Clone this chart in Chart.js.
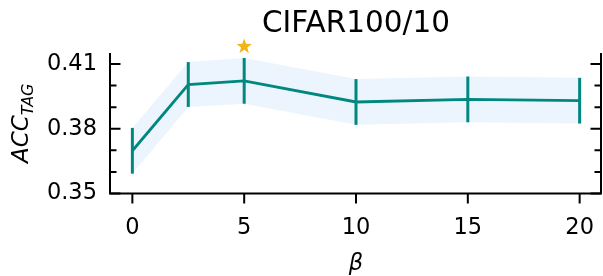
<!DOCTYPE html>
<html>
<head>
<meta charset="utf-8">
<script src="https://cdn.jsdelivr.net/npm/chart.js@4"></script>
<style>
  html, body { margin: 0; padding: 0; background: #fff; }
  #wrap { width: 603px; height: 276px; }
</style>
</head>
<body>
<div id="wrap"><canvas id="myChart" width="603" height="276"></canvas></div>
<script>
// data
const betas = [0, 2.5, 5, 10, 15, 20];
const accMean = [0.3698, 0.4005, 0.4022, 0.3924, 0.3936, 0.3930];
const accErr = [0.0106, 0.0104, 0.0106, 0.0106, 0.0106, 0.0106];
const yTickLabels = ['0.35', '0.38', '0.41'];
const bestBeta = 5;
const starValue = 0.4181;

const teal = '#00877f';
const bandColor = '#ecf5fd';
const font = "'DejaVu Sans', sans-serif";

const upper = betas.map((b, i) => ({x: b, y: accMean[i] + accErr[i]}));
const lower = betas.map((b, i) => ({x: b, y: accMean[i] - accErr[i]}));
const meanPts = betas.map((b, i) => ({x: b, y: accMean[i]}));

const decor = {
    id: 'decor',
    afterDatasetsDraw(chart) {
        const ctx = chart.ctx;
        const xs = chart.scales.x, ys = chart.scales.y;
        ctx.save();
        // error bars
        ctx.strokeStyle = teal;
        ctx.lineWidth = 3;
        for (let i = 0; i < betas.length; i++) {
            const px = xs.getPixelForValue(betas[i]);
            ctx.beginPath();
            ctx.moveTo(px, ys.getPixelForValue(accMean[i] - accErr[i]));
            ctx.lineTo(px, ys.getPixelForValue(accMean[i] + accErr[i]));
            ctx.stroke();
        }
        // star over the best beta
        const sx = xs.getPixelForValue(bestBeta), sy = ys.getPixelForValue(starValue);
        ctx.fillStyle = '#f2b418';
        ctx.beginPath();
        for (let k = 0; k < 10; k++) {
            const r = k % 2 === 0 ? 8 : 3.3;
            const a = -Math.PI / 2 + k * Math.PI / 5;
            const px = sx + r * Math.cos(a), py = sy + r * Math.sin(a);
            if (k === 0) ctx.moveTo(px, py); else ctx.lineTo(px, py);
        }
        ctx.closePath();
        ctx.fill();
        ctx.restore();
    },
    afterDraw(chart) {
        const ctx = chart.ctx;
        const a = chart.chartArea;
        const xs = chart.scales.x, ys = chart.scales.y;
        ctx.save();
        ctx.strokeStyle = '#000';
        ctx.lineWidth = 2;
        // spines: left, bottom, right
        ctx.beginPath();
        ctx.moveTo(a.left, a.top);
        ctx.lineTo(a.left, a.bottom);
        ctx.lineTo(a.right - 1, a.bottom);
        ctx.lineTo(a.right - 1, a.top);
        ctx.stroke();
        // y ticks, inward on both sides
        ys.ticks.forEach(t => {
            const py = ys.getPixelForValue(t.value);
            const len = yTickLabels.includes(t.value.toFixed(2)) ? 10.5 : 6.5;
            ctx.beginPath();
            ctx.moveTo(a.left, py); ctx.lineTo(a.left + len, py);
            ctx.moveTo(a.right - 1, py); ctx.lineTo(a.right - 1 - len, py);
            ctx.stroke();
        });
        // x ticks, outward
        xs.ticks.forEach(t => {
            const px = xs.getPixelForValue(t.value);
            ctx.beginPath();
            ctx.moveTo(px, a.bottom); ctx.lineTo(px, a.bottom + 10);
            ctx.stroke();
        });
        // title
        ctx.fillStyle = '#000';
        ctx.textAlign = 'center';
        ctx.textBaseline = 'alphabetic';
        ctx.font = '29.5px ' + font;
        ctx.fillText('CIFAR100/10', (a.left + a.right) / 2, 31.7);
        // x label
        ctx.font = 'italic 22.5px ' + font;
        ctx.fillText('β', (a.left + a.right) / 2, 270);
        // y label ACC_TAG
        ctx.translate(28, (a.top + a.bottom) / 2);
        ctx.rotate(-Math.PI / 2);
        ctx.textAlign = 'left';
        ctx.font = 'italic 23px ' + font;
        const w1 = ctx.measureText('ACC').width;
        ctx.font = 'italic 16px ' + font;
        const w2 = ctx.measureText('TAG').width;
        const x0 = -(w1 + w2) / 2;
        ctx.font = 'italic 23px ' + font;
        ctx.fillText('ACC', x0, 0);
        ctx.font = 'italic 16px ' + font;
        ctx.fillText('TAG', x0 + w1, 5);
        ctx.restore();
    }
};

const ctx = document.getElementById('myChart');

new Chart(ctx, {
    type: 'line',
    data: {
        datasets: [
            {
                data: meanPts,
                borderColor: teal,
                borderWidth: 2.8,
                pointRadius: 0,
                tension: 0,
                fill: false
            },
            {
                data: upper,
                borderWidth: 0,
                pointRadius: 0,
                backgroundColor: bandColor,
                fill: '+1'
            },
            {
                data: lower,
                borderWidth: 0,
                pointRadius: 0,
                fill: false
            }
        ]
    },
    options: {
        responsive: false,
        animation: false,
        layout: {padding: {top: 53, right: 1, left: 0, bottom: 0}},
        plugins: {
            legend: {display: false},
            tooltip: {enabled: false},
            title: {display: false},
            filler: {drawTime: 'beforeDatasetsDraw'}
        },
        scales: {
            x: {
                type: 'linear',
                min: -1,
                max: 21,
                grid: {display: false, drawTicks: false},
                border: {display: false},
                afterFit: function (s) {
                    s.height = 82.5;
                    s.paddingLeft = 0;
                    s.paddingRight = 0;
                },
                ticks: {
                    stepSize: 5,
                    includeBounds: false,
                    autoSkip: false,
                    padding: 21,
                    color: '#000',
                    font: {family: font, size: 22.5},
                    maxRotation: 0
                }
            },
            y: {
                type: 'linear',
                min: 0.35,
                max: 0.4151,
                grid: {display: false, drawTicks: false},
                border: {display: false},
                afterFit: function (s) {
                    s.width = 110;
                    s.paddingTop = 0;
                    s.paddingBottom = 0;
                },
                ticks: {
                    stepSize: 0.01,
                    includeBounds: false,
                    autoSkip: false,
                    padding: 13,
                    color: '#000',
                    font: {family: font, size: 22.5},
                    callback: function (v) {
                        const s = v.toFixed(2);
                        return yTickLabels.includes(s) ? s : '';
                    }
                }
            }
        }
    },
    plugins: [decor]
});
</script>
</body>
</html>
